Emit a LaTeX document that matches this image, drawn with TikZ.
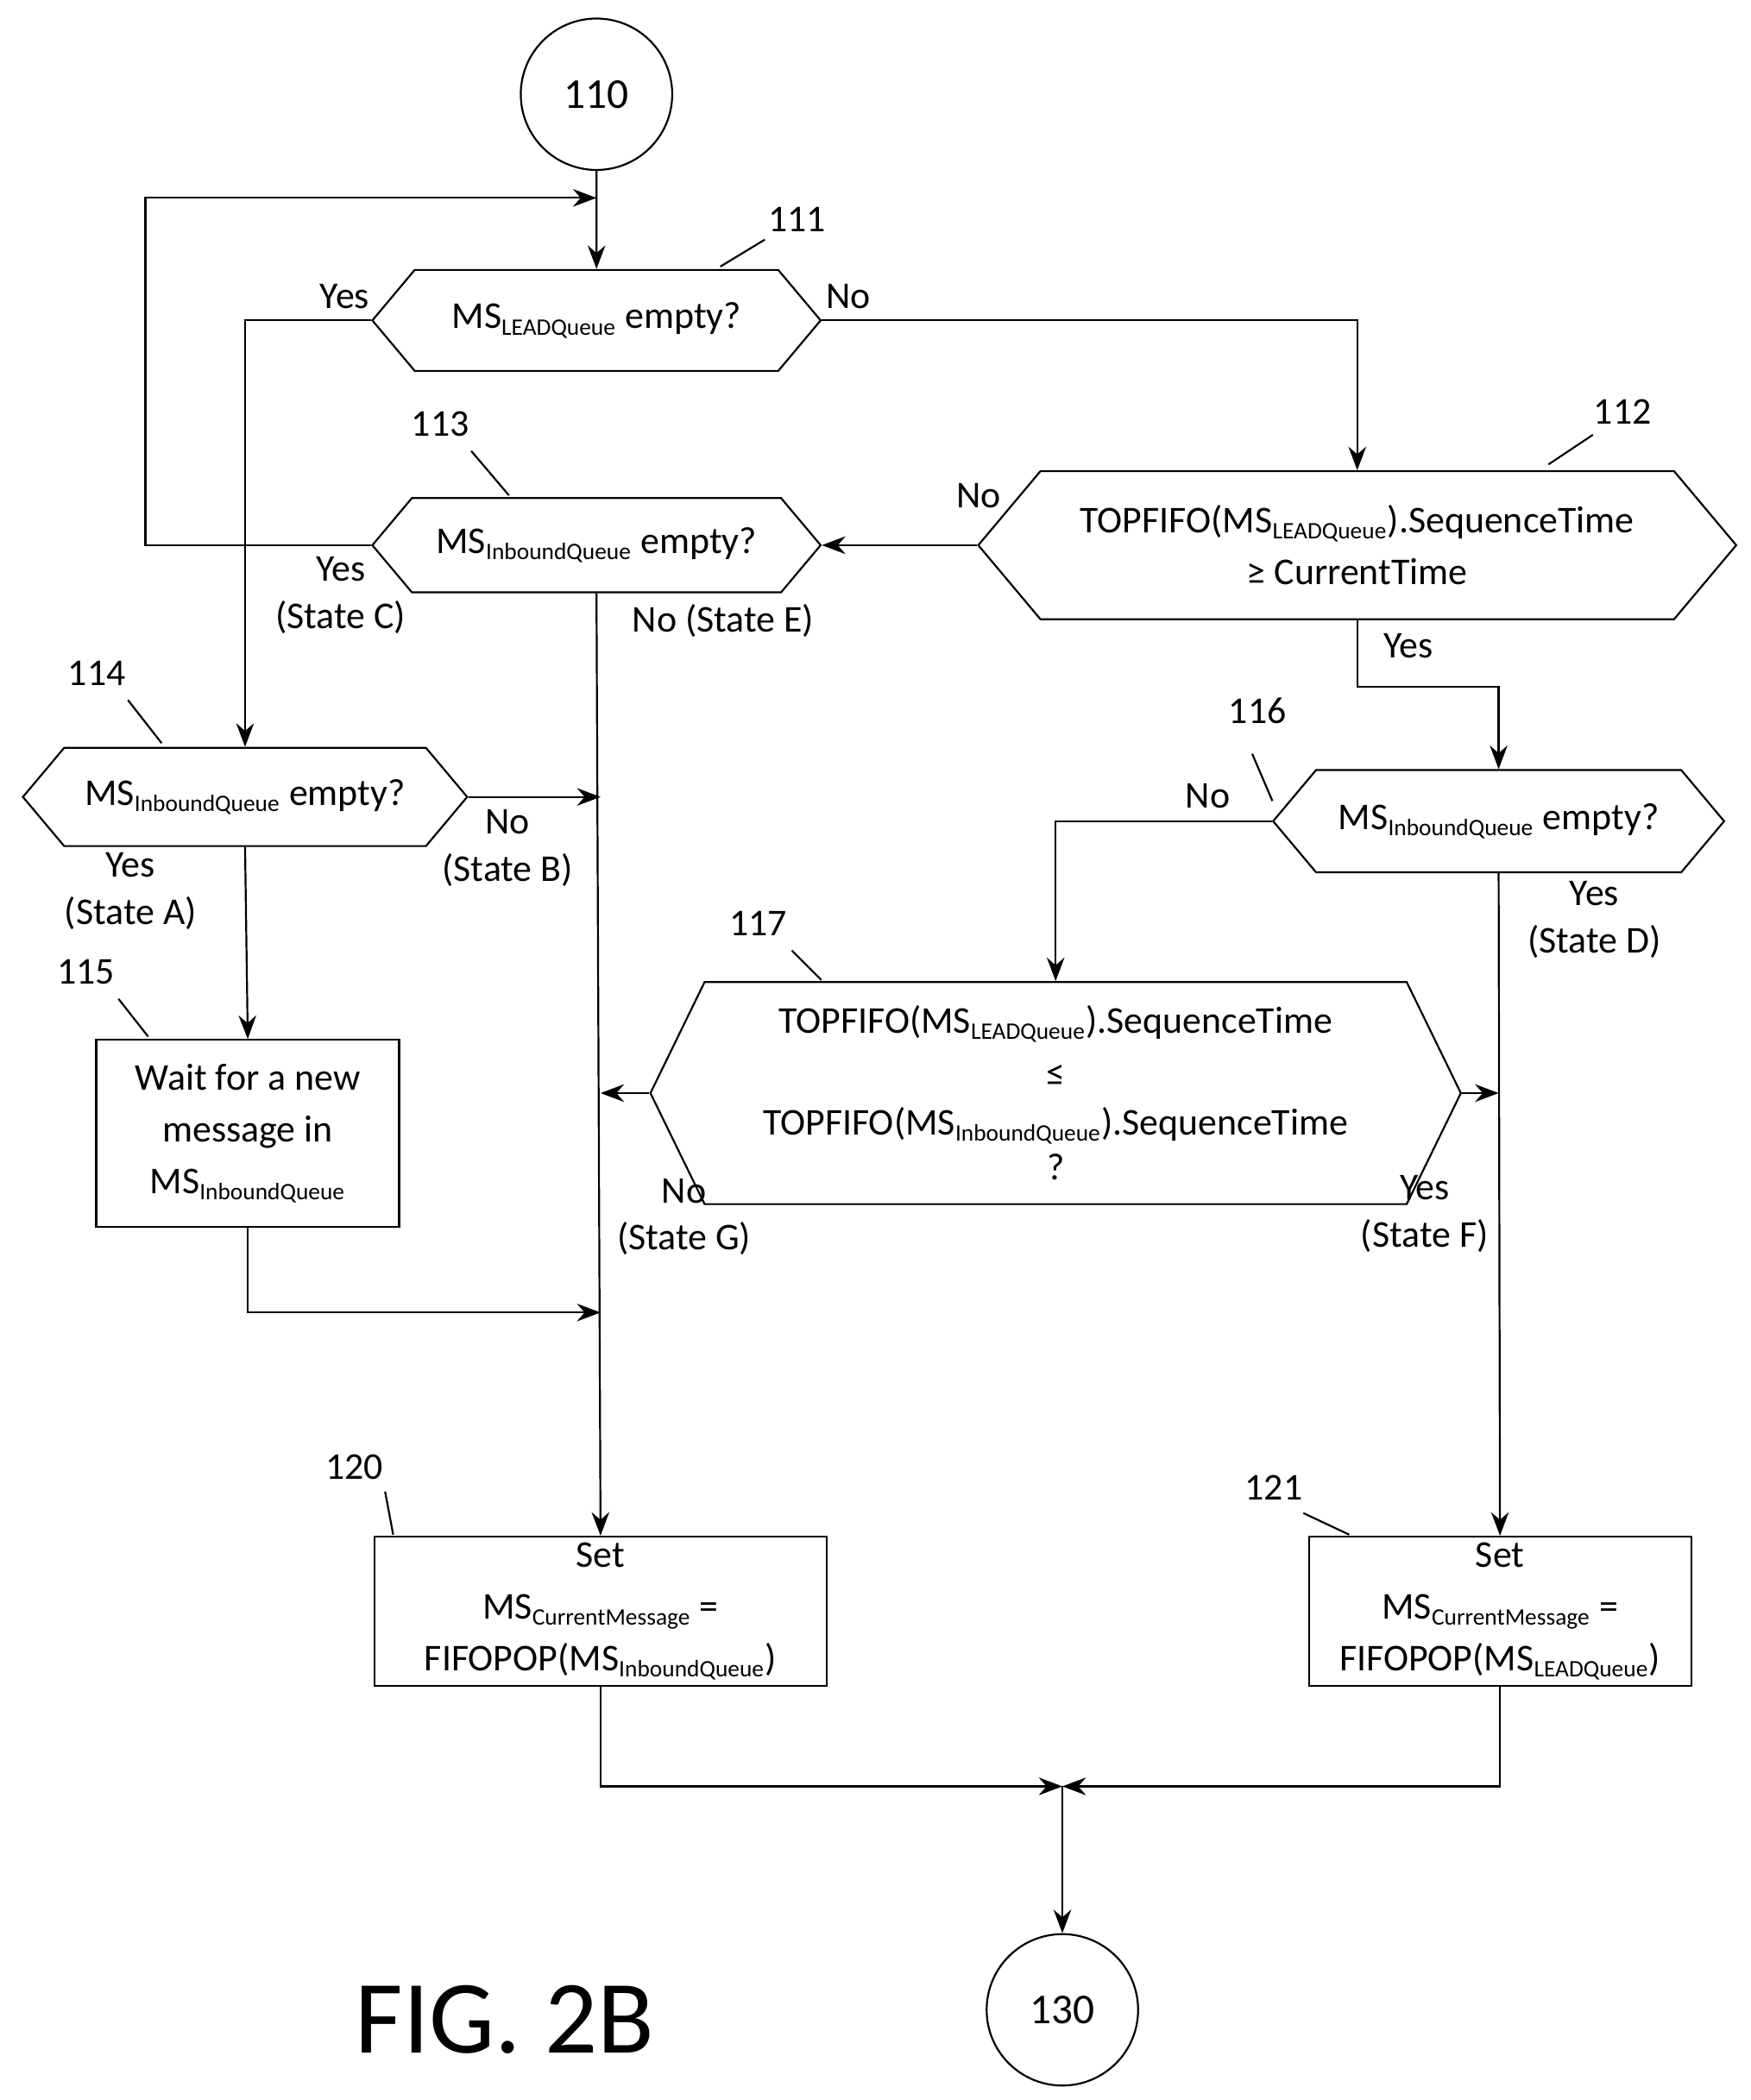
\documentclass[tikz,border=0pt]{standalone}
\usepackage{fontspec}
\setmainfont{Carlito}
\usetikzlibrary{shapes.symbols, arrows.meta, positioning}
\tikzset{
  hexa/.style={signal, signal to=east and west, signal pointer angle=100,
    draw, thick, inner sep=0pt, align=center, font=\fontsize{16}{22}\selectfont},
  box/.style={draw, thick, inner sep=0pt, align=center, font=\fontsize{16}{22}\selectfont},
  term/.style={circle, draw, thick, minimum size=2.25cm, font=\fontsize{18}{22}\selectfont},
  flow/.style={thick, -{Stealth[length=3.5mm]}},
  line/.style={thick},
  lbl/.style={font=\fontsize{16}{20}\selectfont, align=center},
  ref/.style={font=\fontsize{16}{20}\selectfont},
}
\newcommand{\ms}[1]{MS\textsubscript{\fontsize{10}{10}\selectfont #1}}
\begin{document}
\begin{tikzpicture}[x=0.02cm, y=-0.02cm]
\useasboundingbox (0,0) rectangle (1300,1560);
% terminals
\node[term] (t110) at (443,70) {110};
\node[term] (t130) at (789,1493) {130};
% decisions
\node[hexa, minimum width=6.66cm, minimum height=1.5cm] (d111) at (443,238) {\ms{LEADQueue} empty?};
\node[hexa, minimum width=11.26cm, minimum height=2.2cm] (d112) at (1008,405) {TOPFIFO(\ms{LEADQueue}).SequenceTime\\≥ CurrentTime};
\node[hexa, minimum width=6.66cm, minimum height=1.4cm] (d113) at (443,405) {\ms{InboundQueue} empty?};
\node[hexa, minimum width=6.6cm, minimum height=1.46cm] (d114) at (182,592) {\ms{InboundQueue} empty?};
\node[hexa, minimum width=6.7cm, minimum height=1.52cm] (d116) at (1113,610) {\ms{InboundQueue} empty?};
\node[hexa, signal pointer angle=128, minimum width=12.04cm, minimum height=3.3cm, font=\fontsize{16}{19}\selectfont] (d117) at (784,812)
  {TOPFIFO(\ms{LEADQueue}).SequenceTime\\[3pt]≤\\[2pt]TOPFIFO(\ms{InboundQueue}).SequenceTime\\?};
% processes
\node[box, minimum width=4.5cm, minimum height=2.78cm] (p115) at (184,842) {Wait for a new\\message in\\\ms{InboundQueue}};
\node[box, minimum width=6.72cm, minimum height=2.22cm] (p120) at (446,1197) {Set\\\ms{CurrentMessage} =\\FIFOPOP(\ms{InboundQueue})};
\node[box, minimum width=5.68cm, minimum height=2.22cm] (p121) at (1114,1197) {Set\\\ms{CurrentMessage} =\\FIFOPOP(\ms{LEADQueue})};
% junction points
\coordinate (jTop) at (443,147);
\coordinate (jB) at (446,592);
\coordinate (jG) at (446,812);
\coordinate (jA) at (446,975);
\coordinate (jF) at (1113,812);
\coordinate (jEnd) at (789,1327);
% connectors
\draw[flow] (t110) -- (d111);
\draw[flow] (d113.west) -| (108,147) -- (jTop);
\draw[flow] (d111.west) -| (d114.north);
\draw[flow] (d111.east) -| (d112.north);
\draw[flow] (d112.west) -- (d113.east);
\draw[flow] (d113.south) -- (p120.north);
\draw[flow] (d114.east) -- (jB);
\draw[flow] (d114.south) -- (p115.north);
\draw[flow] (p115.south) |- (jA);
\draw[flow] (d112.south) |- (1113,510) -- (d116.north);
\draw[flow] (d116.west) -| (d117.north);
\draw[flow] (d116.south) -- (p121.north);
\draw[flow] (d117.west) -- (jG);
\draw[flow] (d117.east) -- (jF);
\draw[flow] (p120.south) |- (jEnd);
\draw[flow] (p121.south) |- (jEnd);
\draw[flow] (jEnd) -- (t130);
% branch labels
\node[lbl] at (256,220) {Yes};
\node[lbl] at (630,220) {No};
\node[lbl] at (727,368) {No};
\node[lbl] at (253,442) {Yes\\(State C)};
\node[lbl] at (537,461) {No (State E)};
\node[lbl] at (1046,480) {Yes};
\node[lbl] at (97,662) {Yes\\(State A)};
\node[lbl] at (377,630) {No\\(State B)};
\node[lbl] at (897,591) {No};
\node[lbl] at (1184,683) {Yes\\(State D)};
\node[lbl] at (508,904) {No\\(State G)};
\node[lbl] at (1058,902) {Yes\\(State F)};
% reference numerals
\node[ref] (n111) at (592,163) {111};
\draw[line] (535,198) -- (568,178);
\node[ref] (n112) at (1205,306) {112};
\draw[line] (1150,345) -- (1183,323);
\node[ref] (n113) at (327,315) {113};
\draw[line] (378,368) -- (350,335);
\node[ref] (n114) at (72,500) {114};
\draw[line] (120,552) -- (95,520);
\node[ref] (n116) at (934,528) {116};
\draw[line] (945,595) -- (930,560);
\node[ref] (n117) at (563,686) {117};
\draw[line] (610,728) -- (588,706);
\node[ref] (n115) at (64,722) {115};
\draw[line] (110,770) -- (88,742);
\node[ref] (n120) at (263,1090) {120};
\draw[line] (292,1140) -- (286,1108);
\node[ref] (n121) at (946,1105) {121};
\draw[line] (1002,1140) -- (968,1124);
\node[font=\fontsize{44}{50}\selectfont] (fig) at (375,1500) {FIG. 2B};
\end{tikzpicture}
\end{document}
